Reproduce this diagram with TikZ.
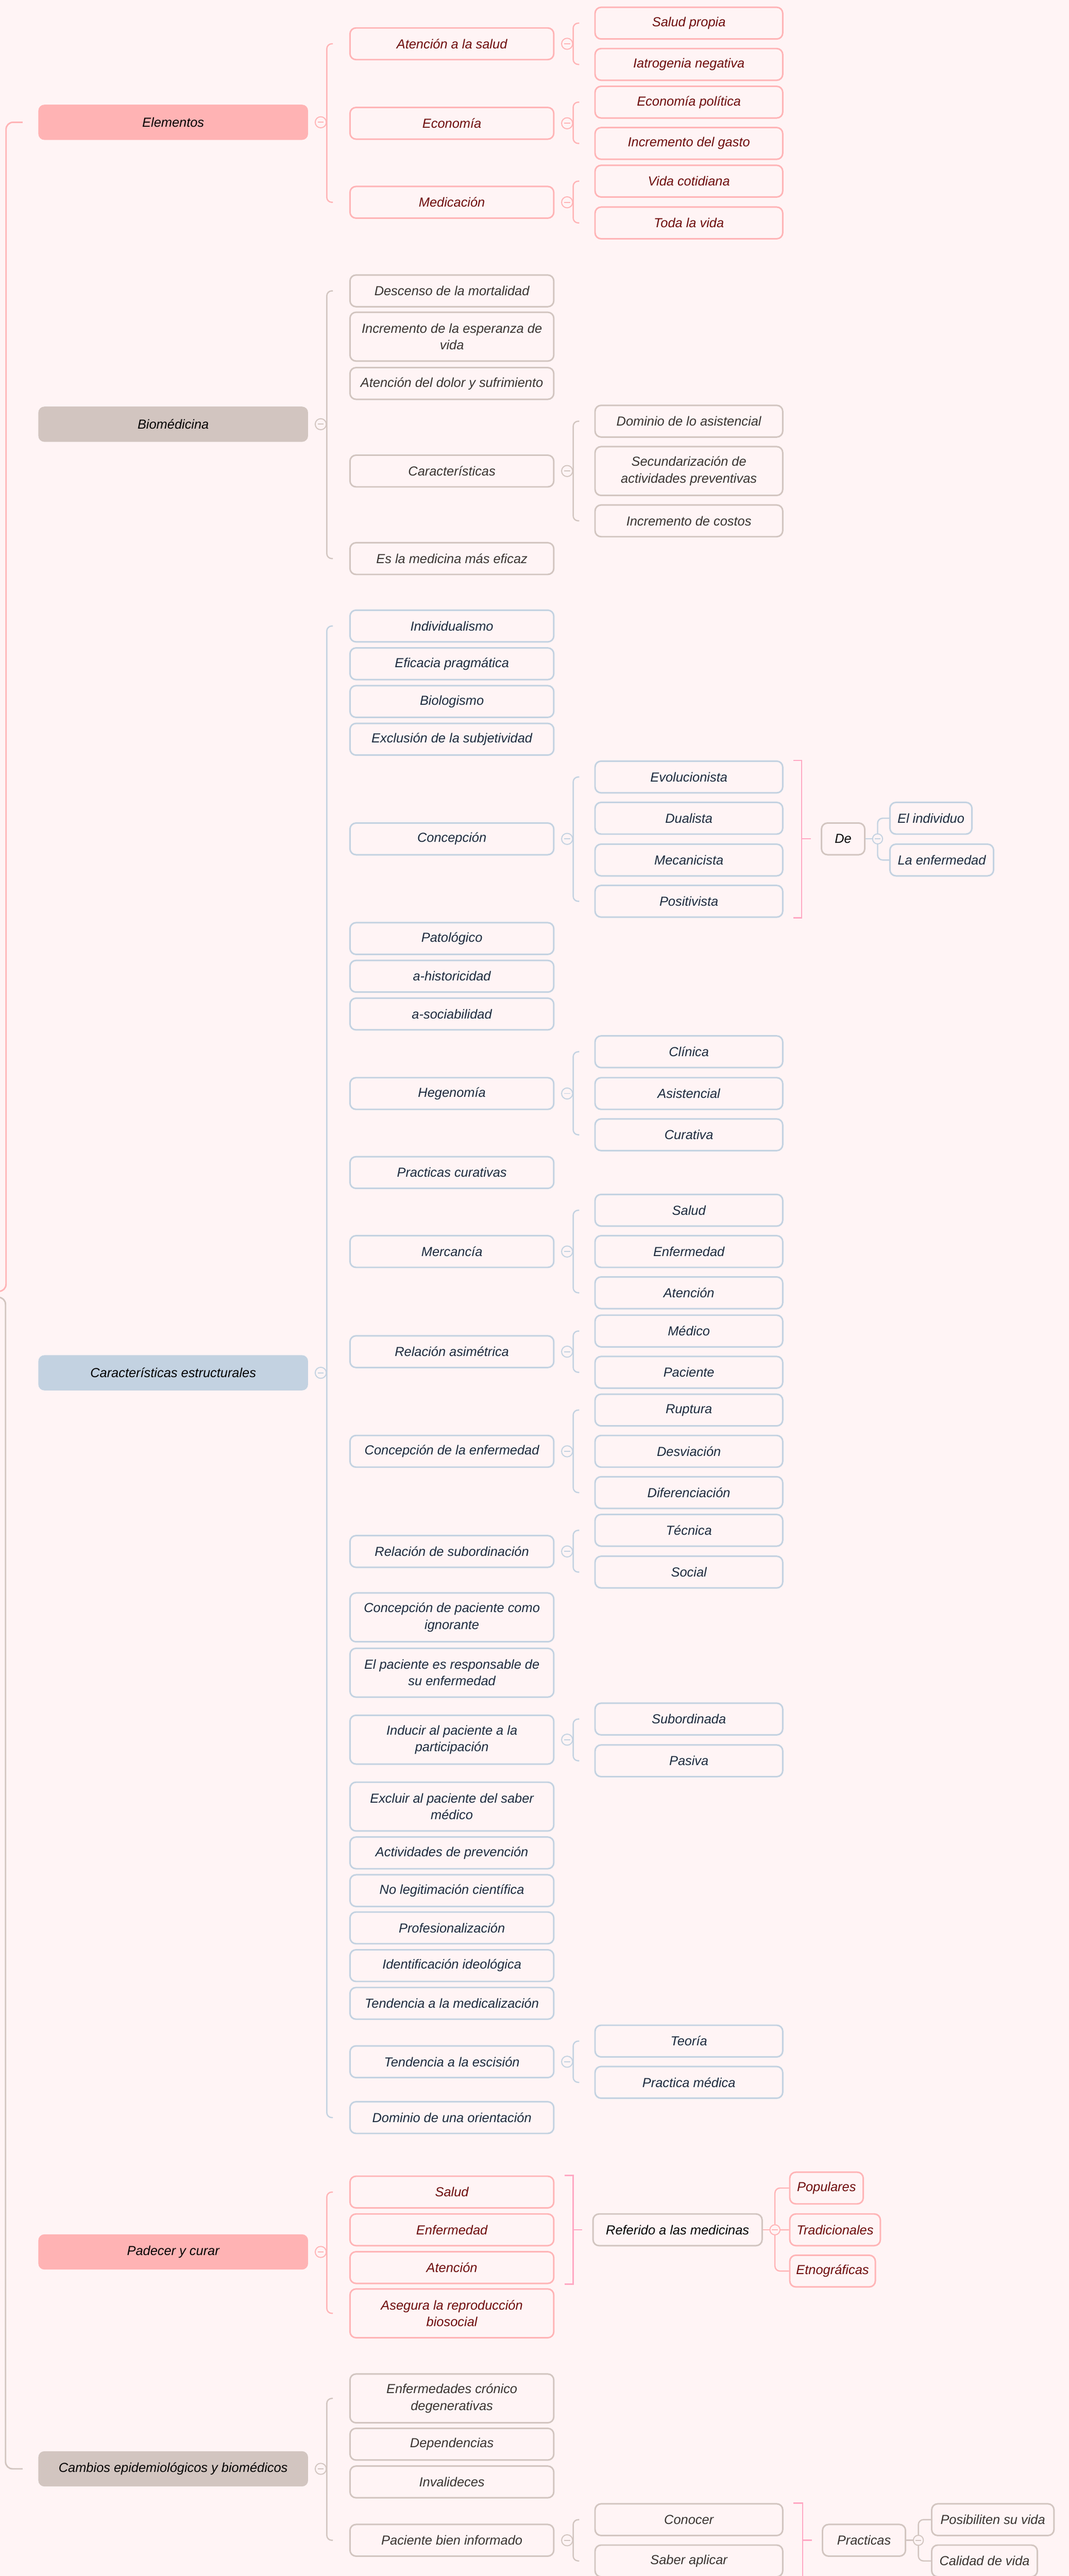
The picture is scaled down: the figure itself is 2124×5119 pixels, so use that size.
\documentclass[tikz,border=0pt]{standalone}
\usepackage{fontspec}
\setmainfont{Liberation Sans}
\usepackage{tikz}
\definecolor{bg}{HTML}{FFF4F5}
\definecolor{pinkA}{HTML}{FFB3B4}
\definecolor{pinkB}{HTML}{FFB4B6}
\definecolor{pinkT}{HTML}{6E0B0B}
\definecolor{brownA}{HTML}{D2C5C0}
\definecolor{brownT}{HTML}{3A3431}
\definecolor{blueA}{HTML}{C3D2E1}
\definecolor{blueT}{HTML}{1D2B3E}
\definecolor{sumc}{HTML}{FFA8C3}
\tikzset{
  box/.style={draw, line width=3pt, rounded corners=12pt, fill=bg, minimum height=63pt,
    inner sep=0pt, align=center, anchor=west},
  lone/.style={fill=#1, rounded corners=12pt, minimum width=536pt, minimum height=70pt,
    inner sep=0pt, anchor=west, text=black},
  pinkbox/.style={box, draw=pinkB, text=pinkT},
  brownbox/.style={box, draw=brownA, text=brownT},
  bluebox/.style={box, draw=blueA, text=blueT},
  mid/.style={minimum width=405pt},
  leaf/.style={minimum width=373pt},
  tall/.style={minimum height=97pt},
}
% brace from a parent to its first and last child
\newcommand{\branchfork}[4]{%
  \coordinate (bx) at ([xshift=37pt]#2.east);
  \draw[#1, line width=2.5pt, rounded corners=10pt]
    (bx |- #3.west) ++(12pt,0) -- (bx |- #3.west) -- (bx |- #4.west) -- ++(12pt,0);
  \draw[#1, line width=2pt, fill=bg] ([xshift=25pt]#2.east) circle (11pt);
  \draw[#1, line width=2pt] ([xshift=19pt]#2.east) -- ([xshift=31pt]#2.east);
}
% elbow lines from a small node
\newcommand{\tightfork}[3]{%
  \draw[#1, line width=2.5pt] (#2.east) -- ++(24pt,0) coordinate (cx);
  \foreach \kid in {#3} {\draw[#1, line width=2.5pt, rounded corners=10pt] (cx) |- (\kid.west);}
  \draw[#1, line width=2pt, fill=bg] (cx) circle (10pt);
  \draw[#1, line width=2pt] ([xshift=-6pt]cx) -- ([xshift=6pt]cx);
}
% summary bracket
\newcommand{\sumbrace}[3]{%
  \draw[sumc, line width=2.5pt] ([xshift=20pt]#1.north east) -| ([xshift=-38pt]#3.west)
    |- ([xshift=20pt]#2.south east);
  \draw[sumc, line width=2.5pt] ([xshift=-38pt]#3.west) -- ([xshift=-20pt]#3.west);
}

\begin{document}
\begin{tikzpicture}[x=1pt, y=-1pt,
   every node/.style={font=\itshape\fontsize{26}{33}\selectfont}
   ]
   \fill[bg] (0,0) rectangle (2124,5119);
   \useasboundingbox (0,0) rectangle (2124,5119);

   % Elementos
   \path (76,243) node[lone=pinkA] (ele) {Elementos};
   \path (694,87) node[pinkbox, mid] (ele1) {Atención a la salud}
   (694,245) node[pinkbox, mid] (ele2) {Economía}
   (694,402) node[pinkbox, mid] (ele3) {Medicación};
   \path (1181,46) node[pinkbox, leaf] (eleA1) {Salud propia}
   (1181,128) node[pinkbox, leaf] (eleA2) {Iatrogenia negativa}
   (1181,203) node[pinkbox, leaf] (eleB1) {Economía política}
   (1181,285) node[pinkbox, leaf] (eleB2) {Incremento del gasto}
   (1181,360) node[pinkbox, leaf] (eleC1) {Vida cotidiana}
   (1181,443) node[pinkbox, leaf] (eleC2) {Toda la vida};
   \branchfork{pinkB}{ele}{ele1}{ele3}
   \branchfork{pinkB}{ele1}{eleA1}{eleA2}
   \branchfork{pinkB}{ele2}{eleB1}{eleB2}
   \branchfork{pinkB}{ele3}{eleC1}{eleC2}

   % Biomedicina
   \path (76,843) node[lone=brownA] (bio) {Biomédicina};
   \path (694,578) node[brownbox, mid] (bio1) {Descenso de la mortalidad}
   (694,669) node[brownbox, mid, tall] (bio2) {Incremento de la esperanza de\\vida}
   (694,762) node[brownbox, mid] (bio3) {Atención del dolor y sufrimiento}
   (694,936) node[brownbox, mid] (bio4) {Características}
   (694,1110) node[brownbox, mid] (bio5) {Es la medicina más eficaz};
   \path (1181,837) node[brownbox, leaf] (bioA1) {Dominio de lo asistencial}
   (1181,936) node[brownbox, leaf, tall] (bioA2) {Secundarización de\\actividades preventivas}
   (1181,1035) node[brownbox, leaf] (bioA3) {Incremento de costos};
   \branchfork{brownA}{bio}{bio1}{bio5}
   \branchfork{brownA}{bio4}{bioA1}{bioA3}

   % Caracteristicas estructurales
   \path (76,2728) node[lone=blueA] (est) {Características estructurales};
   \path (694,1244) node[bluebox, mid] (est1) {Individualismo}
   (694,1319) node[bluebox, mid] (est2) {Eficacia pragmática}
   (694,1394) node[bluebox, mid] (est3) {Biologismo}
   (694,1469) node[bluebox, mid] (est4) {Exclusión de la subjetividad}
   (694,1667) node[bluebox, mid] (est5) {Concepción}
   (694,1865) node[bluebox, mid] (est6) {Patológico}
   (694,1940) node[bluebox, mid] (est7) {a-historicidad}
   (694,2015) node[bluebox, mid] (est8) {a-sociabilidad}
   (694,2173) node[bluebox, mid] (est9) {Hegenomía}
   (694,2330) node[bluebox, mid] (est10) {Practicas curativas}
   (694,2487) node[bluebox, mid] (est11) {Mercancía}
   (694,2686) node[bluebox, mid] (est12) {Relación asimétrica}
   (694,2884) node[bluebox, mid] (est13) {Concepción de la enfermedad}
   (694,3083) node[bluebox, mid] (est14) {Relación de subordinación}
   (694,3214) node[bluebox, mid, tall] (est15) {Concepción de paciente como\\ignorante}
   (694,3324) node[bluebox, mid, tall] (est16) {El paciente es responsable de\\su enfermedad}
   (694,3457) node[bluebox, mid, tall] (est17) {Inducir al paciente a la\\participación}
   (694,3590) node[bluebox, mid, tall] (est18) {Excluir al paciente del saber\\médico}
   (694,3682) node[bluebox, mid] (est19) {Actividades de prevención}
   (694,3757) node[bluebox, mid] (est20) {No legitimación científica}
   (694,3831) node[bluebox, mid] (est21) {Profesionalización}
   (694,3906) node[bluebox, mid] (est22) {Identificación ideológica}
   (694,3981) node[bluebox, mid] (est23) {Tendencia a la medicalización}
   (694,4097) node[bluebox, mid] (est24) {Tendencia a la escisión}
   (694,4208) node[bluebox, mid] (est25) {Dominio de una orientación};
   \path (1181,1544) node[bluebox, leaf] (conA1) {Evolucionista}
   (1181,1626) node[bluebox, leaf] (conA2) {Dualista}
   (1181,1709) node[bluebox, leaf] (conA3) {Mecanicista}
   (1181,1791) node[bluebox, leaf] (conA4) {Positivista}
   (1181,2090) node[bluebox, leaf] (hegA1) {Clínica}
   (1181,2173) node[bluebox, leaf] (hegA2) {Asistencial}
   (1181,2255) node[bluebox, leaf] (hegA3) {Curativa}
   (1181,2405) node[bluebox, leaf] (merA1) {Salud}
   (1181,2487) node[bluebox, leaf] (merA2) {Enfermedad}
   (1181,2569) node[bluebox, leaf] (merA3) {Atención}
   (1181,2645) node[bluebox, leaf] (relA1) {Médico}
   (1181,2727) node[bluebox, leaf] (relA2) {Paciente}
   (1181,2802) node[bluebox, leaf] (cenA1) {Ruptura}
   (1181,2884) node[bluebox, leaf] (cenA2) {Desviación}
   (1181,2966) node[bluebox, leaf] (cenA3) {Diferenciación}
   (1181,3041) node[bluebox, leaf] (subA1) {Técnica}
   (1181,3124) node[bluebox, leaf] (subA2) {Social}
   (1181,3416) node[bluebox, leaf] (indA1) {Subordinada}
   (1181,3499) node[bluebox, leaf] (indA2) {Pasiva}
   (1181,4056) node[bluebox, leaf] (escA1) {Teoría}
   (1181,4138) node[bluebox, leaf] (escA2) {Practica médica};
   \path (1631,1667) node[box, draw=brownA, text=black, minimum width=86pt] (de) {De}
   (1767,1626) node[bluebox, minimum width=163pt] (deA1) {El individuo}
   (1767,1709) node[bluebox, minimum width=206pt] (deA2) {La enfermedad};
   \branchfork{blueA}{est}{est1}{est25}
   \branchfork{blueA}{est5}{conA1}{conA4}
   \branchfork{blueA}{est9}{hegA1}{hegA3}
   \branchfork{blueA}{est11}{merA1}{merA3}
   \branchfork{blueA}{est12}{relA1}{relA2}
   \branchfork{blueA}{est13}{cenA1}{cenA3}
   \branchfork{blueA}{est14}{subA1}{subA2}
   \branchfork{blueA}{est17}{indA1}{indA2}
   \branchfork{blueA}{est24}{escA1}{escA2}
   \sumbrace{conA1}{conA4}{de}
   \tightfork{blueA}{de}{deA1,deA2}

   % Padecer y curar
   \path (76,4475) node[lone=pinkA] (pad) {Padecer y curar};
   \path (694,4356) node[pinkbox, mid] (pad1) {Salud}
   (694,4431) node[pinkbox, mid] (pad2) {Enfermedad}
   (694,4506) node[pinkbox, mid] (pad3) {Atención}
   (694,4597) node[pinkbox, mid, tall] (pad4) {Asegura la reproducción\\biosocial};
   \path (1177,4431) node[box, draw=brownA, text=black, minimum width=336pt] (ref) {Referido a las medicinas}
   (1568,4348) node[pinkbox, minimum width=146pt] (refA1) {Populares}
   (1568,4431) node[pinkbox, minimum width=180pt] (refA2) {Tradicionales}
   (1568,4513) node[pinkbox, minimum width=170pt] (refA3) {Etnográficas};
   \branchfork{pinkB}{pad}{pad1}{pad4}
   \sumbrace{pad1}{pad3}{ref}
   \tightfork{pinkB}{ref}{refA1,refA2,refA3}

   % Cambios
   \path (76,4906) node[lone=brownA] (cam) {Cambios epidemiológicos y biomédicos};
   \path (694,4766) node[brownbox, mid, tall] (cam1) {Enfermedades crónico\\degenerativas}
   (694,4857) node[brownbox, mid] (cam2) {Dependencias}
   (694,4932) node[brownbox, mid] (cam3) {Invalideces}
   (694,5048) node[brownbox, mid] (cam4) {Paciente bien informado};
   \path (1181,5007) node[brownbox, leaf] (camA1) {Conocer}
   (1181,5089) node[brownbox, leaf] (camA2) {Saber aplicar}
   (1633,5048) node[brownbox, minimum width=165pt] (pra) {Practicas}
   (1850,5007) node[brownbox, minimum width=243pt] (praA1) {Posibiliten su vida}
   (1850,5089) node[brownbox, minimum width=210pt] (praA2) {Calidad de vida};
   \branchfork{brownA}{cam}{cam1}{cam4}
   \branchfork{brownA}{cam4}{camA1}{camA2}
   \sumbrace{camA1}{camA2}{pra}
   \tightfork{brownA}{pra}{praA1,praA2}

   % root brace
   \coordinate (rootA) at (-20,2566);
   \coordinate (rootB) at (-20,2578);
   \draw[pinkB, line width=3pt, rounded corners=14pt]
     ([xshift=-31pt]ele.west) -- ++(-33pt,0) |- (rootA);
   \draw[brownA, line width=3pt, rounded corners=14pt]
     (rootB) -| ([xshift=-65pt]cam.west) -- ([xshift=-31pt]cam.west);
\end{tikzpicture}
\end{document}
